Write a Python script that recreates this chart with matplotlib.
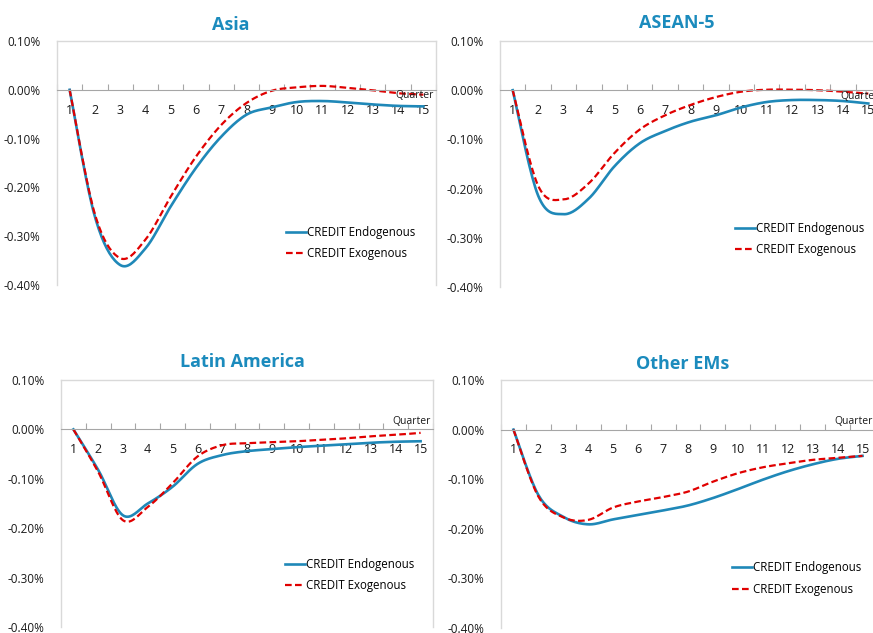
import numpy as np
import matplotlib
matplotlib.use("Agg")
import matplotlib.pyplot as plt
from matplotlib.ticker import FuncFormatter

plt.rcParams['font.family'] = ['Open Sans', 'DejaVu Sans']

quarters = list(range(1, 16))

asia_endo = [0, -0.260, -0.359, -0.325, -0.239, -0.160, -0.096, -0.051, -0.036,
             -0.025, -0.023, -0.026, -0.030, -0.033, -0.034]
asia_exo = [0, -0.255, -0.345, -0.307, -0.219, -0.137, -0.072, -0.027, -0.002,
            0.005, 0.008, 0.004, -0.001, -0.007, -0.010]

asean_endo = [0, -0.214, -0.252, -0.220, -0.155, -0.108, -0.083, -0.064, -0.051,
              -0.035, -0.024, -0.020, -0.020, -0.022, -0.027]
asean_exo = [0, -0.194, -0.222, -0.189, -0.128, -0.080, -0.051, -0.030, -0.014,
             -0.003, 0.001, 0.001, 0.000, -0.003, -0.007]

latam_endo = [0, -0.082, -0.174, -0.150, -0.116, -0.070, -0.052, -0.044, -0.040,
              -0.036, -0.033, -0.030, -0.027, -0.025, -0.024]
latam_exo = [0, -0.086, -0.184, -0.157, -0.109, -0.055, -0.032, -0.028, -0.026,
             -0.024, -0.021, -0.018, -0.014, -0.011, -0.007]

other_endo = [0, -0.132, -0.176, -0.191, -0.181, -0.172, -0.163, -0.153, -0.138,
              -0.120, -0.101, -0.084, -0.070, -0.059, -0.053]
other_exo = [0, -0.135, -0.177, -0.182, -0.157, -0.145, -0.136, -0.125, -0.105,
             -0.088, -0.076, -0.068, -0.061, -0.057, -0.053]

BLUE = '#1f88b8'
RED = '#e00000'
TITLE = '#1b8bbd'
GRAY = '#d9d9d9'


def smooth(x, y, n=20):
    # excel style smoothed line (bezier through the points)
    x = np.asarray(x, float)
    y = np.asarray(y, float)
    px = np.concatenate([[x[0]], x, [x[-1]]])
    py = np.concatenate([[y[0]], y, [y[-1]]])
    xs, ys = [], []
    t = np.linspace(0, 1, n)
    for i in range(1, len(px) - 2):
        p0 = np.array([px[i], py[i]])
        p3 = np.array([px[i + 1], py[i + 1]])
        p1 = p0 + (np.array([px[i + 1], py[i + 1]]) - np.array([px[i - 1], py[i - 1]])) / 6
        p2 = p3 - (np.array([px[i + 2], py[i + 2]]) - np.array([px[i], py[i]])) / 6
        b = ((1 - t) ** 3)[:, None] * p0 + (3 * (1 - t) ** 2 * t)[:, None] * p1 \
            + (3 * (1 - t) * t ** 2)[:, None] * p2 + (t ** 3)[:, None] * p3
        xs.extend(b[:, 0])
        ys.extend(b[:, 1])
    return xs, ys


W, H = 873, 633
fig = plt.figure(figsize=(W / 100, H / 100), dpi=100)

panels = [
    ("Asia", asia_endo, asia_exo, (57, 41, 436, 285), (0.604, 0.172), (231, 25), -0.012),
    ("ASEAN-5", asean_endo, asean_exo, (500, 41, 881, 287), (0.617, 0.195), (677, 23), -0.012),
    ("Latin America", latam_endo, latam_exo, (61, 380, 433, 627), (0.602, 0.21), (242, 362), 0.017),
    ("Other EMs", other_endo, other_exo, (501, 380, 875, 628), (0.618, 0.20), (683, 364), 0.017),
]

for title, endo, exo, (l, t, r, b), leg, (tx, ty), qy in panels:
    ax = fig.add_axes([l / W, 1 - b / H, (r - l) / W, (b - t) / H])
    ax.set_xlim(0.5, 15.5)
    ax.set_ylim(-0.4, 0.1)

    xs, ys = smooth(quarters, endo)
    ax.plot(xs, ys, color=BLUE, lw=1.9, label='CREDIT Endogenous')
    xs, ys = smooth(quarters, exo)
    ax.plot(xs, ys, color=RED, lw=1.6, ls=(0, (3, 1.5)), label='CREDIT Exogenous')

    for s in ['top', 'right', 'left']:
        ax.spines[s].set_color(GRAY)
        ax.spines[s].set_linewidth(1)
    ax.spines['bottom'].set_position(('data', 0))
    ax.spines['bottom'].set_color('#a6a6a6')

    ax.set_yticks([0.1, 0.0, -0.1, -0.2, -0.3, -0.4])
    ax.yaxis.set_major_formatter(FuncFormatter(lambda v, p: f"{v:.2f}%"))
    ax.tick_params(axis='y', length=0, pad=12, labelsize=8.5, labelcolor='#1a1a1a')

    ax.set_xticks(np.arange(0.5, 16, 1))
    ax.set_xticklabels([])
    ax.tick_params(axis='x', which='major', direction='in', length=4, color='#a6a6a6')
    ax.set_xticks(quarters, minor=True)
    ax.set_xticklabels([str(q) for q in quarters], minor=True)
    ax.tick_params(axis='x', which='minor', length=0, pad=10, labelsize=9,
                   labelcolor='#1a1a1a')

    ax.text(0.995, qy, 'Quarter', transform=ax.get_yaxis_transform(),
            ha='right', va='center', fontsize=7.5, color='#1a1a1a')

    ax.legend(loc='center left', bbox_to_anchor=leg, frameon=False, fontsize=8.3,
              handlelength=1.7, handletextpad=0.1, labelspacing=0.75,
              borderpad=0, borderaxespad=0)

    fig.text(tx / W, 1 - ty / H, title, ha='center', va='center', fontsize=13,
             fontweight='bold', color=TITLE)

fig.savefig('out.png', dpi=100)
